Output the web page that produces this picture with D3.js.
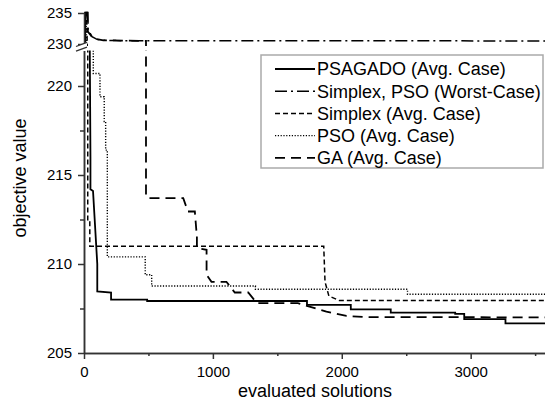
<!DOCTYPE html>
<html>
<head>
<meta charset="utf-8">
<script src="https://cdn.jsdelivr.net/npm/d3@7"></script>
<style>
  body { margin: 0; background: #fff; }
  svg { display: block; font-family: "Liberation Sans", Arial, sans-serif; }
  .axis path, .axis line { stroke: #333; stroke-width: 1.5; }
  .axis text { font-family: "Liberation Sans", Arial, sans-serif; font-size: 15px; fill: #000; }
</style>
</head>
<body>
<svg id="chart" width="545" height="403"></svg>
<script>
// series: [evaluated solutions, objective value]
const psagado = [[8,235.2],[10,230],[45,222],[50,216],[50,214.2],[70,214.1],[103,210],[103,208.46],[210,208.4],[210,208.0],
  [490,208.0],[490,207.92],[1730,207.92],[1730,207.7],[2070,207.7],[2070,207.45],[2380,207.45],[2380,207.27],
  [2880,207.27],[2880,207.2],[2950,207.2],[2950,206.9],[3270,206.9],[3270,206.66],[3600,206.66]];
const worstCase = [[30,235.2],[32,232.3],[62,231.2],[101,230.75],[147,230.6],[250,230.55],[3600,230.5]];
const simplexAvg = [[20,235.2],[25,230],[29,222],[29,212.4],[45,212.4],[45,211],[1860,211],[1870,209],[1900,208.2],
  [1980,207.95],[3600,207.95]];
const psoAvg = [[15,235.2],[20,230],[72,222],[72,220.7],[124,220.7],[124,219.4],[157,219.4],[157,218.0],[168,218.0],
  [168,216.4],[181,216.4],[181,210.4],[475,210.4],[475,209.4],[525,209.4],[525,208.76],[1330,208.76],[1330,208.58],
  [2510,208.58],[2510,208.3],[3600,208.3]];
const gaAvg = [[25,235.2],[30,232],[60,231.2],[100,230.8],[150,230.6],[481,230.5],[481,213.8],[496,213.7],[770,213.7],
  [806,212.95],[860,212.95],[876,211.5],[876,210.9],[951,210.8],[951,209.4],[989,209.0],[1105,209.0],[1170,208.4],
  [1274,208.4],[1341,207.8],[1659,207.8],[1881,207.32],[2036,207.08],[2200,207.02],[3600,207.0]];

const seriesNames = ['PSAGADO (Avg. Case)', 'Simplex, PSO (Worst-Case)', 'Simplex (Avg. Case)', 'PSO (Avg. Case)', 'GA (Avg. Case)'];
const xTicks = [0, 1000, 2000, 3000];
const xMinor = [500, 1500, 2500, 3500];
const yTopTicks = [230, 235];
const yLowTicks = [205, 210, 215, 220];
const yLowMinor = [207.5, 212.5, 217.5];

const styles = [
  { data: psagado, dash: null, w: 1.8 },
  { data: worstCase, dash: '12,4,2,4', w: 1.5 },
  { data: simplexAvg, dash: '5,3', w: 1.5 },
  { data: psoAvg, dash: '1.2,1.6', w: 1.4 },
  { data: gaAvg, dash: '10,6', w: 1.8 }
];

const svg = d3.select('#chart');
const x = d3.scaleLinear().domain([0, 3600]).range([84, 548]);
const yTop = d3.scaleLinear().domain([229.7, 235]).range([45.9, 13]);
const yLow = d3.scaleLinear().domain([205, 222]).range([353, 50.4]);
const fmt = d3.format('d');

const defs = svg.append('defs');
defs.append('clipPath').attr('id', 'clipTop').append('rect')
  .attr('x', 84).attr('y', 0).attr('width', 470).attr('height', 45.9);
defs.append('clipPath').attr('id', 'clipLow').append('rect')
  .attr('x', 84).attr('y', 50.4).attr('width', 470).attr('height', 353 - 50.4);

// lines, drawn once per panel
[['clipTop', yTop], ['clipLow', yLow]].forEach(([clip, y]) => {
  const g = svg.append('g').attr('clip-path', `url(#${clip})`);
  const line = d3.line().x(d => x(d[0])).y(d => y(d[1]));
  styles.forEach(s => {
    g.append('path')
      .attr('d', line(s.data))
      .attr('fill', 'none')
      .attr('stroke', '#000')
      .attr('stroke-width', s.w)
      .attr('stroke-dasharray', s.dash);
  });
});

// axes
svg.append('g').attr('class', 'axis').attr('transform', 'translate(0,353)')
  .call(d3.axisBottom(x).tickValues(xTicks).tickFormat(fmt).tickSize(6).tickSizeOuter(0).tickPadding(7));
svg.append('g').attr('class', 'axis').attr('transform', 'translate(0,353)')
  .call(d3.axisBottom(x).tickValues(xMinor).tickSize(3).tickSizeOuter(0).tickFormat(''));
svg.append('g').attr('class', 'axis').attr('transform', 'translate(84,0)')
  .call(d3.axisLeft(yTop).tickValues(yTopTicks).tickFormat(fmt).tickSize(6).tickSizeOuter(0).tickPadding(6));
svg.append('g').attr('class', 'axis').attr('transform', 'translate(84,0)')
  .call(d3.axisLeft(yLow).tickValues(yLowTicks).tickFormat(fmt).tickSize(6).tickSizeOuter(0).tickPadding(6));
svg.append('g').attr('class', 'axis').attr('transform', 'translate(84,0)')
  .call(d3.axisLeft(yLow).tickValues(yLowMinor).tickSize(4).tickSizeOuter(0).tickFormat(''));

// axis break marks
svg.append('path')
  .attr('d', 'M76,46.5 L87,42.3 L87,47.2 L76,51.2 Z')
  .attr('fill', '#fff');
svg.append('path')
  .attr('d', 'M76,46.5 L87,42.3 M76,51.2 L87,47.2')
  .attr('stroke', '#333').attr('stroke-width', 1.3);

// axis titles
svg.append('text')
  .attr('x', 315).attr('y', 397)
  .attr('text-anchor', 'middle')
  .style('font-size', '18px')
  .text('evaluated solutions');
svg.append('text')
  .attr('transform', 'translate(26,178) rotate(-90)')
  .attr('text-anchor', 'middle')
  .style('font-size', '18px')
  .text('objective value');

// legend
const legend = svg.append('g');
legend.append('rect')
  .attr('x', 261).attr('y', 55).attr('width', 282).attr('height', 113)
  .attr('fill', '#fff').attr('stroke', '#aaa').attr('stroke-width', 1.5);
seriesNames.forEach((name, i) => {
  const yy = 69 + i * 22.2;
  legend.append('line')
    .attr('x1', 275).attr('x2', 315).attr('y1', yy).attr('y2', yy)
    .attr('stroke', '#000')
    .attr('stroke-width', styles[i].w)
    .attr('stroke-dasharray', styles[i].dash);
  legend.append('text')
    .attr('x', 317).attr('y', yy).attr('dy', '0.35em')
    .style('font-size', '18px')
    .text(name);
});
</script>
</body>
</html>
